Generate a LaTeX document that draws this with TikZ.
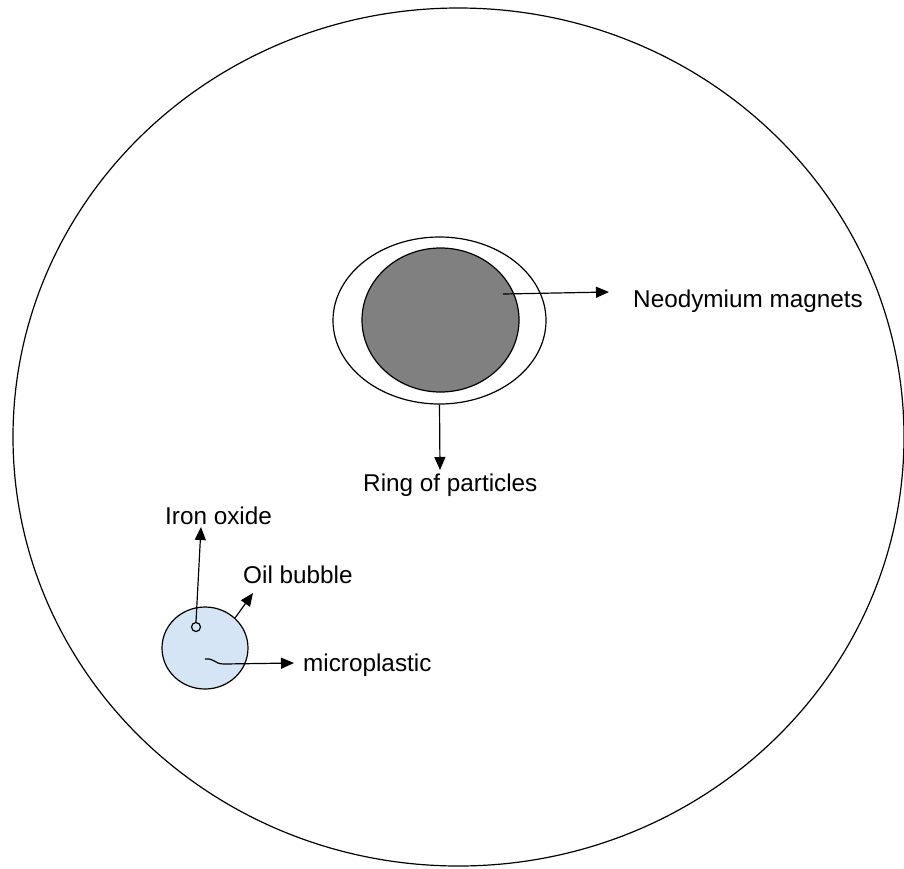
\documentclass[tikz,border=0pt]{standalone}
\usepackage{fontspec}
\setmainfont{Liberation Sans}
\usetikzlibrary{shapes.geometric,arrows.meta}
\definecolor{magnetgray}{HTML}{808080}
\definecolor{bubbleblue}{HTML}{D6E5F5}
\tikzset{
  outline/.style={draw=black,line width=1.2pt,ellipse,inner sep=0pt},
  conn/.style={draw=black,line width=1.2pt,-{Triangle[length=13pt,width=11pt]}},
  lbl/.style={inner sep=0pt,anchor=base west,font=\fontsize{24.3}{29}\selectfont}
}
\begin{document}
\begin{tikzpicture}[x=1pt,y=-1pt]
\useasboundingbox (0,0) rectangle (904,868);
\fill[white] (0,0) rectangle (904,868);
% dish
\node[outline,minimum width=891pt,minimum height=858pt] (dish) at (458.5,437) {};
% ring and magnet
\node[outline,minimum width=213pt,minimum height=167pt] (ring) at (439.5,320.5) {};
\node[outline,fill=magnetgray,minimum width=157pt,minimum height=144pt] (magnet) at (440.5,320) {};
% bubble
\node[outline,fill=bubbleblue,minimum width=86pt,minimum height=82pt] (bubble) at (205,648) {};
\node[outline,minimum width=9pt,minimum height=9pt] (iron) at (196,627) {};
% labels
\node[lbl] (neo) at (633,307) {Neodymium magnets};
\node[lbl] (ringl) at (363,491) {Ring of particles};
\node[lbl] (ironl) at (165,524) {Iron oxide};
\node[lbl] (oill) at (243,583) {Oil bubble};
\node[lbl] (micro) at (303,671) {microplastic};
% connector ends
\coordinate (neoS) at (503,294);
\coordinate (neoE) at (609,292);
\coordinate (ringE) at (440,470);
\coordinate (ironE) at (201,527);
\coordinate (oilE) at (253,593);
\coordinate (microS) at (205,659);
\coordinate (microE) at (294,663);
% connectors
\draw[conn] (neoS) -- (neoE);
\draw[conn] (ring.south) -- (ringE);
\draw[conn] (iron.north) -- (ironE);
\draw[conn] (bubble.45) -- (oilE);
\draw[conn] (microS) .. controls (215,658) and (214,664) .. (224,664) -- (microE);
\end{tikzpicture}
\end{document}
